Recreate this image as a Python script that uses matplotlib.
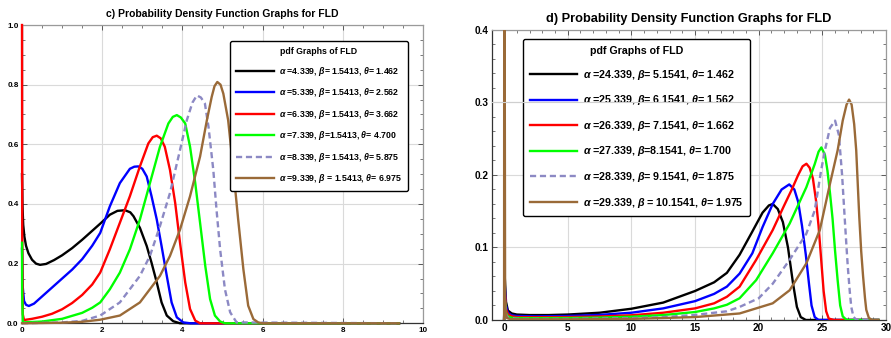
import matplotlib
matplotlib.use("Agg")
import matplotlib.pyplot as plt
from matplotlib.ticker import MultipleLocator, FormatStrFormatter

plt.rcParams['font.family'] = ['Liberation Sans', 'DejaVu Sans']
plt.rcParams['mathtext.fontset'] = 'custom'
plt.rcParams['mathtext.it'] = 'Liberation Sans:italic:bold'
plt.rcParams['mathtext.rm'] = 'Liberation Sans:bold'
plt.rcParams['mathtext.bf'] = 'Liberation Sans:bold'

# ---- panel c) values ----
c_black_x = [0.0, 0.01, 0.03, 0.06, 0.1, 0.16, 0.25, 0.35, 0.45, 0.6, 0.8, 1.0, 1.25, 1.5, 1.75, 1.95, 2.19, 2.38,
             2.57, 2.7, 2.78, 2.94, 3.11, 3.23, 3.36, 3.48, 3.61, 3.77, 3.94, 9.4]
c_black_y = [0.50, 0.40, 0.33, 0.29, 0.26, 0.235, 0.213, 0.200, 0.196, 0.199, 0.212, 0.228, 0.252, 0.28, 0.31,
             0.334, 0.364, 0.377, 0.379, 0.372, 0.359, 0.32, 0.259, 0.203, 0.137, 0.07, 0.026, 0.007, 0.0, 0.0]

c_blue_x = [0.0, 0.02, 0.05, 0.1, 0.17, 0.3, 0.5, 0.75, 1.0, 1.25, 1.5, 1.75, 1.95, 2.19, 2.44, 2.69, 2.8, 2.9,
            3.0, 3.11, 3.23, 3.36, 3.48, 3.61, 3.73, 3.86, 4.02, 4.2, 9.4]
c_blue_y = [0.25, 0.12, 0.075, 0.062, 0.058, 0.066, 0.09, 0.12, 0.15, 0.18, 0.215, 0.26, 0.303, 0.392, 0.47,
            0.518, 0.525, 0.526, 0.518, 0.492, 0.426, 0.348, 0.259, 0.159, 0.07, 0.02, 0.003, 0.0, 0.0]

c_red_x = [0.0, 0.005, 0.02, 0.05, 0.25, 0.5, 0.75, 1.0, 1.25, 1.5, 1.75, 1.95, 2.19, 2.44, 2.69, 2.94, 3.15,
           3.26, 3.36, 3.46, 3.56, 3.69, 3.82, 3.94, 4.07, 4.19, 4.32, 4.44, 9.4]
c_red_y = [1.0, 0.3, 0.03, 0.011, 0.015, 0.022, 0.032, 0.047, 0.068, 0.095, 0.13, 0.17, 0.248, 0.337, 0.426,
           0.526, 0.603, 0.624, 0.629, 0.62, 0.592, 0.514, 0.403, 0.27, 0.137, 0.048, 0.009, 0.0, 0.0]

c_green_x = [0.0, 0.003, 0.02, 0.5, 1.0, 1.5, 1.75, 1.95, 2.19, 2.44, 2.69, 2.94, 3.19, 3.44, 3.65, 3.76, 3.86,
             3.96, 4.07, 4.19, 4.32, 4.44, 4.57, 4.69, 4.81, 4.94, 5.06, 9.4]
c_green_y = [0.27, 0.1, 0.003, 0.006, 0.015, 0.035, 0.052, 0.07, 0.114, 0.17, 0.248, 0.348, 0.47, 0.592, 0.67,
             0.692, 0.698, 0.69, 0.67, 0.592, 0.47, 0.337, 0.192, 0.081, 0.026, 0.006, 0.0, 0.0]

c_purple_x = [0.0, 1.0, 1.5, 1.95, 2.44, 2.94, 3.19, 3.44, 3.69, 3.94, 4.11, 4.25, 4.36, 4.46, 4.56, 4.65, 4.77,
              4.85, 4.94, 5.06, 5.19, 5.35, 9.4]
c_purple_y = [0.0, 0.003, 0.008, 0.026, 0.07, 0.159, 0.226, 0.326, 0.437, 0.581, 0.681, 0.74, 0.764, 0.757,
              0.737, 0.659, 0.514, 0.381, 0.248, 0.114, 0.037, 0.003, 0.0]

c_brown_x = [0.0, 1.0, 1.5, 1.95, 2.44, 2.94, 3.44, 3.69, 3.94, 4.19, 4.44, 4.61, 4.73, 4.8, 4.87, 4.95, 5.02,
             5.14, 5.27, 5.39, 5.52, 5.64, 5.77, 5.89, 6.0, 9.4]
c_brown_y = [0.0, 0.002, 0.005, 0.012, 0.026, 0.07, 0.159, 0.226, 0.314, 0.426, 0.559, 0.681, 0.759, 0.795,
             0.809, 0.8, 0.77, 0.681, 0.514, 0.348, 0.181, 0.059, 0.014, 0.003, 0.0, 0.0]

c_labels = [r"$\alpha$ =4.339, $\beta$= 1.5413, $\theta$= 1.462",
            r"$\alpha$ =5.339, $\beta$= 1.5413, $\theta$= 2.562",
            r"$\alpha$ =6.339, $\beta$= 1.5413, $\theta$= 3.662",
            r"$\alpha$ =7.339, $\beta$=1.5413, $\theta$= 4.700",
            r"$\alpha$ =8.339, $\beta$= 1.5413, $\theta$= 5.875",
            r"$\alpha$ =9.339, $\beta$ = 1.5413, $\theta$= 6.975"]

# ---- panel d) values ----
d_black_x = [0.0, 0.05, 0.15, 0.3, 0.6, 1.0, 2.0, 3.5, 5.0, 7.5, 10.0, 12.5, 15.0, 16.5, 17.5, 18.5, 19.5, 20.3,
             20.8, 21.1, 21.5, 21.9, 22.3, 22.7, 23.0, 23.3, 23.7, 29.4]
d_black_y = [0.0, 0.06, 0.025, 0.013, 0.009, 0.0075, 0.0068, 0.0068, 0.0075, 0.010, 0.0155, 0.024, 0.040, 0.052,
             0.065, 0.09, 0.122, 0.148, 0.158, 0.160, 0.153, 0.135, 0.10, 0.05, 0.018, 0.004, 0.0, 0.0]

d_blue_x = [0.0, 0.05, 0.15, 0.3, 0.6, 1.0, 2.5, 5.0, 7.5, 10.0, 12.5, 15.0, 16.5, 17.5, 18.5, 19.5, 20.3, 21.1,
            21.8, 22.4, 22.8, 23.1, 23.4, 23.7, 23.95, 24.15, 24.4, 24.7, 29.4]
d_blue_y = [0.0, 0.05, 0.02, 0.01, 0.0065, 0.0055, 0.005, 0.0055, 0.007, 0.010, 0.016, 0.026, 0.036, 0.046, 0.064,
            0.092, 0.128, 0.16, 0.18, 0.187, 0.18, 0.163, 0.13, 0.09, 0.05, 0.02, 0.004, 0.0, 0.0]

d_red_x = [0.0, 0.05, 0.15, 0.3, 0.6, 1.0, 2.5, 5.0, 7.5, 10.0, 12.5, 15.0, 16.5, 17.5, 18.5, 19.8, 21.1, 22.0,
           22.6, 23.1, 23.45, 23.75, 24.0, 24.26, 24.5, 24.7, 24.9, 25.1, 25.3, 25.5, 25.9, 29.4]
d_red_y = [0.0, 0.04, 0.015, 0.008, 0.005, 0.004, 0.0038, 0.004, 0.0048, 0.0065, 0.010, 0.016, 0.023, 0.032,
           0.046, 0.083, 0.124, 0.158, 0.18, 0.20, 0.212, 0.2155, 0.21, 0.195, 0.165, 0.13, 0.085, 0.04, 0.012,
           0.002, 0.0, 0.0]

d_green_x = [0.0, 0.05, 0.15, 0.3, 0.6, 1.0, 2.5, 5.0, 7.5, 10.0, 12.5, 15.0, 16.5, 17.5, 18.5, 19.8, 21.1, 22.43,
             23.74, 24.4, 24.7, 24.92, 25.2, 25.4, 25.6, 25.8, 26.0, 26.2, 26.4, 26.6, 26.9, 29.4]
d_green_y = [0.0, 0.03, 0.01, 0.005, 0.003, 0.0026, 0.0025, 0.0027, 0.0033, 0.0045, 0.0068, 0.011, 0.016, 0.021,
             0.030, 0.055, 0.092, 0.133, 0.183, 0.215, 0.232, 0.238, 0.228, 0.206, 0.175, 0.14, 0.095, 0.055,
             0.02, 0.005, 0.0, 0.0]

d_purple_x = [0.0, 0.05, 0.15, 0.3, 1.0, 5.0, 10.0, 12.5, 15.0, 17.5, 18.5, 20.0, 21.1, 22.43, 23.74, 24.4, 24.9,
              25.2, 25.6, 26.0, 26.3, 26.55, 26.75, 26.9, 27.0, 27.15, 27.27, 27.45, 27.7, 29.4]
d_purple_y = [0.0, 0.025, 0.008, 0.003, 0.0015, 0.0015, 0.0025, 0.004, 0.007, 0.012, 0.018, 0.03, 0.05, 0.083,
              0.119, 0.151, 0.206, 0.234, 0.265, 0.275, 0.255, 0.20, 0.142, 0.10, 0.073, 0.04, 0.018, 0.004,
              0.0, 0.0]

d_brown_x = [0.0, 0.01, 0.04, 0.08, 0.2, 0.5, 5.0, 10.0, 15.0, 18.5, 21.1, 22.43, 23.74, 24.8, 25.6, 26.2, 26.6,
             26.9, 27.1, 27.3, 27.5, 27.66, 27.8, 27.9, 28.05, 28.2, 28.35, 28.45, 28.65, 28.9, 29.4]
d_brown_y = [0.0, 0.5, 0.5, 0.02, 0.003, 0.001, 0.0008, 0.0015, 0.004, 0.009, 0.023, 0.041, 0.078, 0.124, 0.188,
             0.234, 0.275, 0.297, 0.304, 0.297, 0.27, 0.234, 0.18, 0.142, 0.095, 0.06, 0.03, 0.014, 0.003, 0.0, 0.0]

d_labels = [r"$\alpha$ =24.339, $\beta$= 5.1541, $\theta$= 1.462",
            r"$\alpha$ =25.339, $\beta$= 6.1541, $\theta$= 1.562",
            r"$\alpha$ =26.339, $\beta$= 7.1541, $\theta$= 1.662",
            r"$\alpha$ =27.339, $\beta$=8.1541, $\theta$= 1.700",
            r"$\alpha$ =28.339, $\beta$= 9.1541, $\theta$= 1.875",
            r"$\alpha$ =29.339, $\beta$ = 10.1541, $\theta$= 1.975"]

colors = ['black', '#0000ff', '#ff0000', '#00ff00', '#8c89c4', '#9a6a38']
styles = ['-', '-', '-', '-', (0, (2.6, 1.6)), '-']


def style_axes(ax, tick_fs):
    ax.set_axisbelow(True)
    ax.grid(True, which='major', color='#dadada', lw=0.8)
    ax.tick_params(which='both', direction='in', top=True, right=True, colors='#444444',
                   labelcolor='black', labelsize=tick_fs, pad=2.5)
    ax.tick_params(which='major', length=3.5, width=0.6)
    ax.tick_params(which='minor', length=2, width=0.5)
    for lab in ax.get_xticklabels() + ax.get_yticklabels():
        lab.set_fontweight('bold')
    ax.spines['left'].set_color('#333333')
    ax.spines['bottom'].set_color('#333333')
    ax.spines['top'].set_color('#9a9a9a')
    ax.spines['right'].set_color('#9a9a9a')
    for s in ax.spines.values():
        s.set_linewidth(0.9)


fig = plt.figure(figsize=(8.91, 3.38), dpi=100)

# ---------------- c) ----------------
ax1 = fig.add_axes([0.0247, 0.0435, 0.4501, 0.8825])
c_x = [c_black_x, c_blue_x, c_red_x, c_green_x, c_purple_x, c_brown_x]
c_y = [c_black_y, c_blue_y, c_red_y, c_green_y, c_purple_y, c_brown_y]
for xs, ys, col, ls, lab in zip(c_x, c_y, colors, styles, c_labels):
    ax1.plot(xs, ys, color=col, ls=ls, lw=1.7, label=lab, solid_joinstyle='round', clip_on=False, zorder=3)
ax1.set_xlim(0, 10)
ax1.set_ylim(0, 1.0)
ax1.xaxis.set_major_locator(MultipleLocator(2))
ax1.xaxis.set_minor_locator(MultipleLocator(0.5))
ax1.yaxis.set_major_locator(MultipleLocator(0.2))
ax1.yaxis.set_minor_locator(MultipleLocator(0.05))
ax1.yaxis.set_major_formatter(FormatStrFormatter('%.1f'))
style_axes(ax1, 5.8)
ax1.set_title("c) Probability Density Function Graphs for FLD", fontsize=7.5, fontweight='bold', pad=6)
leg1 = ax1.legend(loc='upper left', bbox_to_anchor=(0.5187, 0.9464), borderaxespad=0,
                  title="pdf Graphs of FLD", title_fontproperties={'size': 6.3, 'weight': 'bold'},
                  prop={'weight': 'bold', 'size': 6.3},
                  handlelength=4.3, handletextpad=0.6, labelspacing=0.97, borderpad=0.7,
                  fancybox=True, edgecolor='black', framealpha=1)
leg1.get_frame().set_linewidth(1.0)

# ---------------- d) ----------------
ax2 = fig.add_axes([0.5519, 0.0533, 0.4425, 0.858])
d_x = [d_black_x, d_blue_x, d_red_x, d_green_x, d_purple_x, d_brown_x]
d_y = [d_black_y, d_blue_y, d_red_y, d_green_y, d_purple_y, d_brown_y]
for xs, ys, col, ls, lab in zip(d_x, d_y, colors, styles, d_labels):
    ax2.plot(xs, ys, color=col, ls=ls, lw=1.7, label=lab, solid_joinstyle='round', zorder=3)
ax2.set_xlim(-0.97, 30)
ax2.set_ylim(0, 0.4)
ax2.xaxis.set_major_locator(MultipleLocator(5))
ax2.xaxis.set_minor_locator(MultipleLocator(1))
ax2.yaxis.set_major_locator(MultipleLocator(0.1))
ax2.yaxis.set_minor_locator(MultipleLocator(0.02))
ax2.yaxis.set_major_formatter(FormatStrFormatter('%.1f'))
style_axes(ax2, 7.2)
ax2.set_title("d) Probability Density Function Graphs for FLD", fontsize=9.2, fontweight='bold', pad=6)
leg2 = ax2.legend(loc='upper left', bbox_to_anchor=(0.0794, 0.968), borderaxespad=0,
                  title="pdf Graphs of FLD", title_fontproperties={'size': 7.7, 'weight': 'bold'},
                  prop={'weight': 'bold', 'size': 7.7},
                  handlelength=4.35, handletextpad=0.56, labelspacing=1.08, borderpad=0.65,
                  fancybox=True, edgecolor='black', framealpha=1)
leg2.get_frame().set_linewidth(1.0)
# the 0.3 grid line runs over the legend in the original
ax2.axhline(0.3, color='#cfcfcf', lw=0.8, zorder=6)

fig.savefig("out.png", dpi=100)
